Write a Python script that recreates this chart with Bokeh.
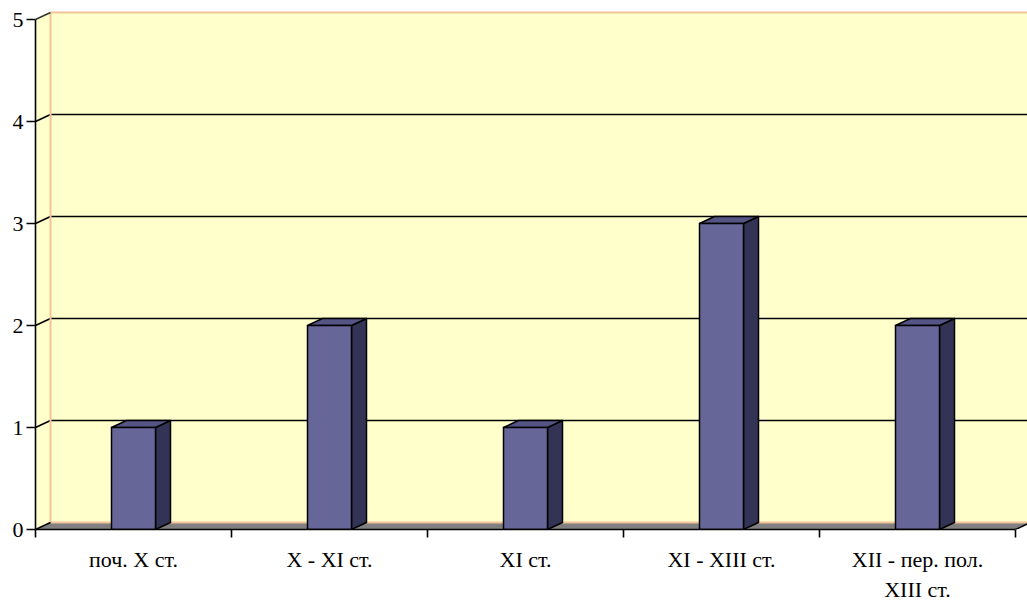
from bokeh.plotting import figure
from bokeh.models import Range1d, FixedTicker, LinearAxis, CustomJSTickFormatter
from bokeh.embed import file_html
from bokeh.resources import INLINE

# ---- data ----
categories = ["поч. X ст.", "X - XI ст.", "XI ст.", "XI - XIII ст.", "XII - пер. пол.\nXIII ст."]
values = [1, 2, 1, 3, 2]
y_ticks = [0, 1, 2, 3, 4, 5]

# ---- geometry / style ----
W, H = 1027, 604
BL, BB = 35, 75
PX_CAT, PX_UNIT = 196.0, 102.0
DX, DY = 15 / PX_CAT, 7 / PX_UNIT          # 3-D depth offset in data units
HW = 22 / PX_CAT                            # half bar width
n = len(categories)
ymax = max(y_ticks)

WALL = "#FFFFCC"
WALL_EDGE = "#F2C49A"
FLOOR = "#808080"
FRONT, TOP, SIDE = "#666699", "#545485", "#333355"
FONT = "Liberation Serif"

p = figure(width=W, height=H, output_backend="svg", toolbar_location=None,
           x_range=Range1d(0, (W - BL) / PX_CAT),
           y_range=Range1d(0, (H - BB) / PX_UNIT),
           min_border_left=BL, min_border_right=0, min_border_top=0, min_border_bottom=BB,
           x_axis_location=None, y_axis_location=None)
p.grid.visible = False
p.outline_line_color = None
p.background_fill_color = "white"
p.border_fill_color = "white"

# side wall
p.patch([0, DX, DX, 0], [0, DY, ymax + DY, ymax], fill_color=WALL, line_color=None)
# back wall
p.quad(left=DX, right=n + DX, bottom=DY, top=ymax + DY, fill_color=WALL, line_color=None)
# wall gridlines
gt = [t for t in y_ticks if 0 < t < ymax]
p.segment(x0=[DX] * len(gt), y0=[t + DY for t in gt], x1=[n + DX] * len(gt), y1=[t + DY for t in gt],
          line_color="black", line_width=1.6)
p.segment(x0=[0] * len(gt), y0=gt, x1=[DX] * len(gt), y1=[t + DY for t in gt],
          line_color="black", line_width=1.6)
# wall edges
p.segment(x0=[DX, DX], y0=[DY, ymax + DY], x1=[DX, n + DX], y1=[ymax + DY, ymax + DY],
          line_color=WALL_EDGE, line_width=2)
p.segment(x0=[0], y0=[ymax], x1=[DX], y1=[ymax + DY], line_color="#333333", line_width=1.5)
# floor
p.patch([0, n, n + DX, DX], [0, 0, DY, DY], fill_color=FLOOR, line_color=None)
p.segment(x0=[DX], y0=[DY], x1=[n + DX], y1=[DY], line_color=WALL_EDGE, line_width=2)
p.segment(x0=[0, n], y0=[0, 0], x1=[DX, n + DX], y1=[DY, DY], line_color="black", line_width=1.5)

# bars
centers = [i + 0.5 for i in range(n)]
front_xs, front_ys, top_xs, top_ys, side_xs, side_ys = [], [], [], [], [], []
for c, v in zip(centers, values):
    l, r = c - HW, c + HW
    front_xs.append([l, r, r, l]); front_ys.append([0, 0, v, v])
    top_xs.append([l, r, r + DX, l + DX]); top_ys.append([v, v, v + DY, v + DY])
    side_xs.append([r, r + DX, r + DX, r]); side_ys.append([0, DY, v + DY, v])
p.patches(side_xs, side_ys, fill_color=SIDE, line_color="black", line_width=1.5, line_join="round")
p.patches(top_xs, top_ys, fill_color=TOP, line_color="black", line_width=1.5, line_join="round")
p.patches(front_xs, front_ys, fill_color=FRONT, line_color="black", line_width=1.5, line_join="round")

# y axis
yax = LinearAxis(ticker=FixedTicker(ticks=y_ticks), bounds=(0, ymax))
yax.axis_line_width = 1.6
yax.major_tick_out = 9
yax.major_tick_in = 0
yax.major_tick_line_width = 1.6
yax.minor_tick_line_color = None
yax.major_label_standoff = 3
yax.major_label_text_font = FONT
yax.major_label_text_font_size = "22px"
yax.major_label_text_color = "black"
p.add_layout(yax, "left")

# x axis: labels at category centres (invisible major ticks), tick marks at category boundaries
xax = LinearAxis(ticker=FixedTicker(ticks=centers, minor_ticks=list(range(n + 1))), bounds=(0, n))
xax.formatter = CustomJSTickFormatter(args=dict(labels=categories),
                                      code="const i = Math.floor(tick); return labels[i] ?? '';")
xax.axis_line_width = 1.6
xax.major_tick_line_color = None
xax.major_tick_out = 0
xax.major_tick_in = 0
xax.minor_tick_out = 8
xax.minor_tick_in = 0
xax.minor_tick_line_width = 1.6
xax.minor_tick_line_color = "black"
xax.major_label_standoff = 9
xax.major_label_text_font = FONT
xax.major_label_text_font_size = "22px"
xax.major_label_text_color = "black"
p.add_layout(xax, "below")

open("out.html", "w").write(file_html(p, INLINE))
